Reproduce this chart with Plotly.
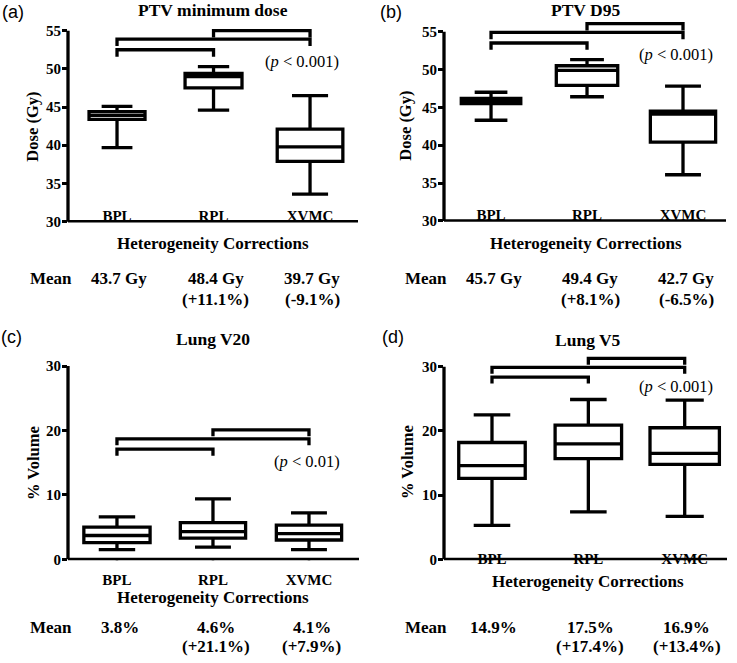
import plotly.graph_objects as go

W, H = 737, 663
SERIF = "Liberation Serif"
SANS = "Liberation Sans"

categories = ["BPL", "RPL", "XVMC"]

# (a) PTV minimum dose (Gy)
a_upper = [45.1, 50.3, 46.5]
a_q3 = [44.4, 49.4, 42.1]
a_median = [43.9, 49.0, 39.8]
a_q1 = [43.4, 47.5, 37.9]
a_lower = [39.7, 44.6, 33.6]
a_mean = [43.7, 48.4, 39.7]
a_change = [None, "+11.1%", "-9.1%"]
a_brackets = [52.5, 53.9, 55.0]

# (b) PTV D95 (Gy)
b_upper = [47.0, 51.3, 47.8]
b_q3 = [46.2, 50.5, 44.5]
b_median = [45.9, 49.9, 44.1]
b_q1 = [45.5, 47.9, 40.4]
b_lower = [43.3, 46.4, 36.1]
b_mean = [45.7, 49.4, 42.7]
b_change = [None, "+8.1%", "-6.5%"]
b_brackets = [53.5, 54.9, 56.05]

# (c) Lung V20 (% volume)
c_upper = [6.6, 9.4, 7.2]
c_q3 = [5.0, 5.7, 5.3]
c_median = [3.7, 4.3, 4.0]
c_q1 = [2.6, 3.3, 3.0]
c_lower = [1.5, 1.9, 1.5]
c_mean = [3.8, 4.6, 4.1]
c_change = [None, "+21.1%", "+7.9%"]
c_brackets = [17.1, 18.7, 20.1]

# (d) Lung V5 (% volume)
d_upper = [22.5, 24.9, 24.8]
d_q3 = [18.2, 20.9, 20.5]
d_median = [14.6, 18.0, 16.5]
d_q1 = [12.6, 15.7, 14.8]
d_lower = [5.3, 7.4, 6.7]
d_mean = [14.9, 17.5, 16.9]
d_change = [None, "+17.4%", "+13.4%"]
d_brackets = [28.4, 29.9, 31.3]

bracket_pairs = [("BPL", "RPL"), ("BPL", "XVMC"), ("RPL", "XVMC")]
titles = ["PTV minimum dose", "PTV D95", "Lung V20", "Lung V5"]
panel_labels = ["(a)", "(b)", "(c)", "(d)"]
y_titles = ["Dose (Gy)", "Dose (Gy)", "% Volume", "% Volume"]
x_title = "Heterogeneity Corrections"
p_texts = ["<i>p</i> < 0.001", "<i>p</i> < 0.001", "<i>p</i> < 0.01", "<i>p</i> < 0.001"]
y_ticks_dose = [30, 35, 40, 45, 50, 55]
y_ticks_vol = [0, 10, 20, 30]

panels = [
    dict(upper=a_upper, q3=a_q3, med=a_median, q1=a_q1, lower=a_lower,
         mean=a_mean, change=a_change, br=a_brackets, unit=" Gy", ticks=y_ticks_dose),
    dict(upper=b_upper, q3=b_q3, med=b_median, q1=b_q1, lower=b_lower,
         mean=b_mean, change=b_change, br=b_brackets, unit=" Gy", ticks=y_ticks_dose),
    dict(upper=c_upper, q3=c_q3, med=c_median, q1=c_q1, lower=c_lower,
         mean=c_mean, change=c_change, br=c_brackets, unit="%", ticks=y_ticks_vol),
    dict(upper=d_upper, q3=d_q3, med=d_median, q1=d_q1, lower=d_lower,
         mean=d_mean, change=d_change, br=d_brackets, unit="%", ticks=y_ticks_vol),
]

# ---- layout geometry (screen pixels) ----
geom = [
    dict(xl=68, xr=358, yb=224, yt=31, ypad=0.12, ytop=57, xrng=[-0.508, 2.497],
         bw=[0.58, 0.59, 0.68], leg=0.9, xticks=False,
         title=(213, 10), plab=(13, 12), ytit=(33, 128), xtit=(213, 246),
         ptxt=(302, 62), meanx=51, meany=(281, 303), mshift=2, catstand=-18),
    dict(xl=444, xr=726, yb=223.3, yt=32, ypad=0.12, ytop=57, xrng=[-0.49, 2.448],
         bw=[0.62, 0.64, 0.68], leg=0.9, xticks=False,
         title=(585, 10), plab=(391, 12), ytit=(406, 127), xtit=(586, 246),
         ptxt=(676, 55), meanx=426, meany=(281, 303), mshift=3, catstand=-18),
    dict(xl=68, xr=359, yb=565.3, yt=370, ypad=0.14, ytop=32, xrng=[-0.51, 2.521],
         bw=[0.69, 0.68, 0.68], leg=1.0, xticks=True,
         title=(213, 343), plab=(12, 341), ytit=(33, 468), xtit=(213, 604),
         ptxt=(307, 466), meanx=51, meany=(634, 653), mshift=3, catstand=9),
    dict(xl=444, xr=727, yb=565.3, yt=370.7, ypad=0.14, ytop=32, xrng=[-0.498, 2.439],
         bw=[0.69, 0.69, 0.72], leg=1.0, xticks=True,
         title=(588, 344), plab=(393, 341), ytit=(407, 467), xtit=(588, 588),
         ptxt=(676, 391), meanx=426, meany=(634, 653), mshift=2, catstand=-12),
]

LW = 3.3
fig = go.Figure()
layout = {}
annotations = []
shapes = []


def px2x(px):
    return px / W


def px2y(py):
    return 1 - py / H


for i, (p, g) in enumerate(zip(panels, geom)):
    n = "" if i == 0 else str(i + 1)
    xa, ya = "x" + n, "y" + n
    t0, t1 = p["ticks"][0], p["ticks"][-1]
    ppu = (g["yb"] - g["yt"]) / (t1 - t0)
    yr = [t0 - g["ypad"], g["ytop"]]
    ybot = g["yb"] + g["ypad"] * ppu
    ytop = g["yb"] - (yr[1] - t0) * ppu

    layout["xaxis" + n] = dict(
        domain=[px2x(g["xl"]), px2x(g["xr"])], anchor=ya, type="category",
        categoryorder="array", categoryarray=categories, range=g["xrng"],
        showline=False, showgrid=False, zeroline=False,
        ticks="", ticklabelposition="outside", ticklabelstandoff=g["catstand"],
        tickfont=dict(family=SERIF, size=15, color="black", weight="bold"),
        fixedrange=True,
    )
    layout["yaxis" + n] = dict(
        domain=[px2y(ybot), px2y(ytop)], anchor=xa, range=yr,
        tickvals=p["ticks"], showline=False, showgrid=False, zeroline=False,
        ticks="outside", ticklen=5, tickwidth=2.5, tickcolor="black",
        ticklabelstandoff=-2,
        tickfont=dict(family=SERIF, size=15, color="black", weight="bold"),
        fixedrange=True,
    )
    # axis lines drawn at the first tick value
    shapes.append(dict(type="line", xref=xa + " domain", yref=ya, x0=0, x1=0,
                       y0=t0, y1=t1, line=dict(color="black", width=LW)))
    shapes.append(dict(type="line", xref=xa + " domain", yref=ya, x0=0, x1=1,
                       y0=t0, y1=t0, line=dict(color="black", width=LW)))
    if g["xticks"]:
        for cat in categories:
            shapes.append(dict(type="line", xref=xa, yref=ya, x0=cat, x1=cat,
                               ysizemode="pixel", yanchor=t0, y0=-6, y1=0,
                               line=dict(color="black", width=2.5)))

    for k, cat in enumerate(categories):
        fig.add_trace(go.Box(
            x=[cat], q1=[p["q1"][k]], median=[p["med"][k]], q3=[p["q3"][k]],
            lowerfence=[p["lower"][k]], upperfence=[p["upper"][k]],
            width=g["bw"][k], whiskerwidth=0.55, boxpoints=False,
            line=dict(color="black", width=LW), fillcolor="white",
            xaxis=xa, yaxis=ya, showlegend=False, hoverinfo="skip",
        ))

    for (c0, c1), h in zip(bracket_pairs, p["br"]):
        fig.add_trace(go.Scatter(
            x=[c0, c0, c1, c1], y=[h - g["leg"], h, h, h - g["leg"]],
            mode="lines", line=dict(color="black", width=LW),
            xaxis=xa, yaxis=ya, showlegend=False, hoverinfo="skip",
        ))

    bold17 = dict(family=SERIF, size=17, color="black", weight="bold")
    annotations.append(dict(text=titles[i], x=px2x(g["title"][0]), y=px2y(g["title"][1]),
                            xref="paper", yref="paper", showarrow=False,
                            font=dict(family=SERIF, size=17.5, color="black", weight="bold"),
                            xanchor="center", yanchor="middle"))
    annotations.append(dict(text=panel_labels[i], x=px2x(g["plab"][0]), y=px2y(g["plab"][1]),
                            xref="paper", yref="paper", showarrow=False,
                            font=dict(family=SANS, size=18, color="black"),
                            xanchor="center", yanchor="middle"))
    annotations.append(dict(text=y_titles[i], x=px2x(g["ytit"][0]), y=px2y(g["ytit"][1]),
                            xref="paper", yref="paper", showarrow=False, textangle=-90,
                            font=dict(family=SERIF, size=16.5, color="black", weight="bold"),
                            xanchor="center", yanchor="middle"))
    annotations.append(dict(text=x_title, x=px2x(g["xtit"][0]), y=px2y(g["xtit"][1]),
                            xref="paper", yref="paper", showarrow=False, font=bold17,
                            xanchor="center", yanchor="middle"))
    annotations.append(dict(text="(" + p_texts[i] + ")", x=px2x(g["ptxt"][0]), y=px2y(g["ptxt"][1]),
                            xref="paper", yref="paper", showarrow=False,
                            font=dict(family=SERIF, size=16.5, color="black"),
                            xanchor="center", yanchor="middle"))
    annotations.append(dict(text="Mean", x=px2x(g["meanx"]), y=px2y(g["meany"][0]),
                            xref="paper", yref="paper", showarrow=False, font=bold17,
                            xanchor="center", yanchor="middle"))
    for k, cat in enumerate(categories):
        annotations.append(dict(text=f"{p['mean'][k]:.1f}{p['unit']}", x=cat, xref=xa,
                                y=px2y(g["meany"][0]), yref="paper", xshift=g["mshift"],
                                showarrow=False, font=bold17, xanchor="center", yanchor="middle"))
        if p["change"][k]:
            annotations.append(dict(text=f"({p['change'][k]})", x=cat, xref=xa,
                                    y=px2y(g["meany"][1]), yref="paper", xshift=g["mshift"],
                                    showarrow=False, font=bold17, xanchor="center",
                                    yanchor="middle"))

fig.update_layout(
    width=W, height=H, margin=dict(l=0, r=0, t=0, b=0),
    paper_bgcolor="white", plot_bgcolor="white",
    showlegend=False, annotations=annotations, shapes=shapes, **layout,
)

# remove the browser's default 8px body margin so the figure sits at the window origin
fig.write_html("out.html", config={"displayModeBar": False},
               post_script="document.body.style.margin='0px';")
